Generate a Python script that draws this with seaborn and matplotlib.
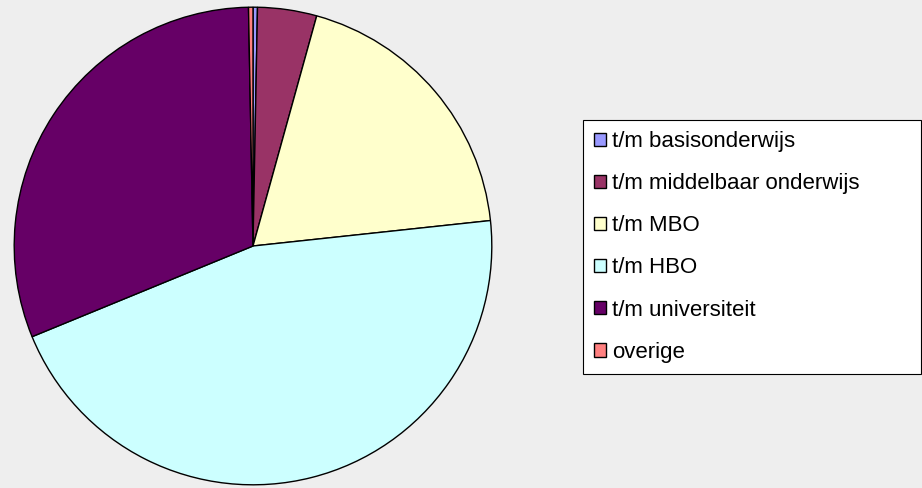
import matplotlib
matplotlib.use("Agg")
import matplotlib.pyplot as plt
import seaborn as sns

# opleidingsniveau - aandeel (%)
labels = ["t/m basisonderwijs", "t/m middelbaar onderwijs", "t/m MBO",
          "t/m HBO", "t/m universiteit", "overige"]
values = [0.3, 4.0, 19.0, 45.5, 30.9, 0.3]
colors = ["#9999FF", "#993366", "#FFFFCC", "#CCFFFF", "#660066", "#FF8080"]

sns.set_style("white")
plt.rcParams["font.family"] = ["Liberation Sans", "DejaVu Sans"]

fig = plt.figure(figsize=(9.22, 4.88), dpi=100)
fig.patch.set_facecolor("#EEEEEE")

ax = fig.add_axes([13 / 922, 2 / 488, 480 / 922, 480 / 488])
wedges, _ = ax.pie(values, colors=sns.color_palette(colors), startangle=90,
                   counterclock=False, radius=1.0,
                   wedgeprops=dict(edgecolor="black", linewidth=1.0))
ax.set_xlim(-1.005, 1.005)
ax.set_ylim(-1.005, 1.005)
ax.set_aspect("equal")
ax.axis("off")

leg = fig.legend(wedges, labels, loc="upper left",
                 bbox_to_anchor=(583 / 922, 1 - 120 / 488 - 0.01, 338 / 922, 0.01),
                 mode="expand", fontsize=16, labelcolor="black",
                 frameon=True, fancybox=False,
                 edgecolor="black", facecolor="white", framealpha=1,
                 handlelength=0.55, handleheight=0.55, handletextpad=0.25,
                 labelspacing=0.95, borderpad=0.5, borderaxespad=0)
leg.get_frame().set_linewidth(0.8)

fig.savefig("out.png", dpi=100, facecolor=fig.get_facecolor())
